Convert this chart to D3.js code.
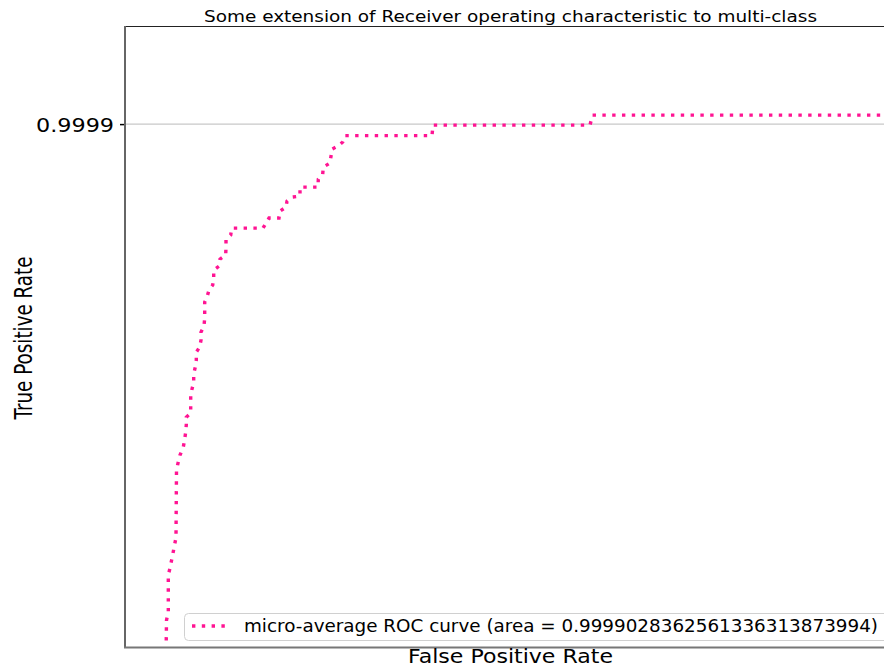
<!DOCTYPE html>
<html>
<head>
<meta charset="utf-8">
<script src="https://cdn.jsdelivr.net/npm/d3@7"></script>
<style>
  html, body { margin: 0; padding: 0; background: #fff; }
  svg { display: block; font-family: "DejaVu Sans", sans-serif; }
</style>
</head>
<body>
<svg id="chart" width="884" height="668"></svg>
<script>
// ---- data ----
const fpr = [0.00041, 0.000415, 0.000433, 0.000433, 0.00045, 0.00048, 0.000505, 0.00051, 0.000515, 0.00053,
  0.00055, 0.000583, 0.000597, 0.000607, 0.000613, 0.000613, 0.000657, 0.000657, 0.00067, 0.000687,
  0.000687, 0.000703, 0.000713, 0.000713, 0.000747, 0.00076, 0.00076, 0.00079, 0.000797, 0.000797,
  0.00082, 0.00084, 0.000877, 0.000887, 0.000887, 0.00094, 0.00095, 0.001007, 0.00101, 0.00101,
  0.001057, 0.001067, 0.00138, 0.00141, 0.00144, 0.00154, 0.00155, 0.00161, 0.00162, 0.00167,
  0.00175, 0.00175, 0.00193, 0.001933, 0.001977, 0.001983, 0.00205, 0.00206, 0.00207, 0.00213,
  0.002177, 0.0022, 0.00307, 0.00308, 0.00465, 0.004675, 0.0078];
const tpr = [0.993944, 0.994389, 0.994478, 0.994889, 0.994967, 0.995133, 0.995278, 0.995311, 0.996056, 0.996133,
  0.996222, 0.996311, 0.9964, 0.996478, 0.996559, 0.996644, 0.996689, 0.996878, 0.996956, 0.997033,
  0.997122, 0.9972, 0.997278, 0.997367, 0.997422, 0.9975, 0.997589, 0.997656, 0.997744, 0.997922,
  0.997978, 0.998056, 0.998111, 0.998189, 0.998278, 0.998322, 0.9984, 0.998444, 0.998533, 0.998622,
  0.998667, 0.998744, 0.998744, 0.9988, 0.998856, 0.998856, 0.998933, 0.998978, 0.999044, 0.999089,
  0.9991, 0.9992, 0.9992, 0.999289, 0.999344, 0.999422, 0.999467, 0.999544, 0.999622, 0.999656,
  0.9997, 0.999772, 0.999772, 0.999889, 0.999889, 1.0, 1.0];
const yTicks = [0.9999];
const yTickLabels = ["0.9999"];
const xDomain = [0, 0.0077];
const yDomain = [0.99409, 1.00099];
const rocArea = "0.9999028362561336313873994";
const titleText = "Some extension of Receiver operating characteristic to multi-class";
const xLabelText = "False Positive Rate";
const yLabelText = "True Positive Rate";
const legendLabel = "micro-average ROC curve (area = " + rocArea + ")";

// ---- layout ----
const svg = d3.select("#chart");
const plot = { left: 125, top: 26, right: 895, bottom: 647 };
const color = "#ff1493";

const x = d3.scaleLinear().domain(xDomain).range([plot.left, plot.right]);
const y = d3.scaleLinear().domain(yDomain).range([plot.bottom, plot.top]);

svg.append("defs").append("clipPath").attr("id", "clip")
  .append("rect")
  .attr("x", plot.left).attr("y", plot.top)
  .attr("width", plot.right - plot.left).attr("height", plot.bottom - plot.top);

// grid (y only)
svg.append("g").selectAll("line").data(yTicks).join("line")
  .attr("x1", plot.left).attr("x2", plot.right)
  .attr("y1", d => y(d)).attr("y2", d => y(d))
  .attr("stroke", "#c8c8c8").attr("stroke-width", 1.2);

// curve
const pts = fpr.map((f, i) => [f, tpr[i]]);
const line = d3.line().x(d => x(d[0])).y(d => y(d[1]));
svg.append("path")
  .attr("clip-path", "url(#clip)")
  .attr("d", line(pts))
  .attr("fill", "none")
  .attr("stroke", color)
  .attr("stroke-width", 3.4)
  .attr("stroke-dasharray", "3.4,6.4");

// spines
svg.append("line").attr("x1", plot.left).attr("x2", plot.right)
  .attr("y1", plot.top + 0.5).attr("y2", plot.top + 0.5)
  .attr("stroke", "#222").attr("stroke-width", 1);
svg.append("line").attr("x1", plot.left).attr("x2", plot.left)
  .attr("y1", plot.top).attr("y2", plot.bottom + 1)
  .attr("stroke", "#666").attr("stroke-width", 2);
svg.append("line").attr("x1", plot.left - 1).attr("x2", plot.right)
  .attr("y1", plot.bottom + 0.5).attr("y2", plot.bottom + 0.5)
  .attr("stroke", "#777").attr("stroke-width", 2);

// y axis ticks
const yAxis = d3.axisLeft(y).tickValues(yTicks)
  .tickFormat((d, i) => yTickLabels[i]).tickSize(4).tickPadding(6);
const yg = svg.append("g").attr("transform", `translate(${plot.left - 1},0)`).call(yAxis);
yg.select(".domain").remove();
yg.selectAll(".tick line").attr("stroke", "#000").attr("stroke-width", 1.5);
yg.selectAll(".tick text")
  .attr("font-family", "DejaVu Sans, sans-serif")
  .attr("font-size", 19.5)
  .attr("fill", "#000")
  .attr("dy", "0.36em")
  .attr("textLength", 78)
  .attr("lengthAdjust", "spacingAndGlyphs");

// title
svg.append("text")
  .attr("x", 510.5).attr("y", 22)
  .attr("text-anchor", "middle")
  .attr("font-size", 16)
  .attr("textLength", 613).attr("lengthAdjust", "spacingAndGlyphs")
  .attr("fill", "#000")
  .text(titleText);

// x label
svg.append("text")
  .attr("x", 510.5).attr("y", 663)
  .attr("text-anchor", "middle")
  .attr("font-size", 19)
  .attr("textLength", 205).attr("lengthAdjust", "spacingAndGlyphs")
  .attr("fill", "#000")
  .text(xLabelText);

// y label
svg.append("text")
  .attr("transform", "translate(32,338) rotate(-90)")
  .attr("text-anchor", "middle")
  .attr("font-size", 25)
  .attr("textLength", 163).attr("lengthAdjust", "spacingAndGlyphs")
  .attr("fill", "#000")
  .text(yLabelText);

// legend
const lg = svg.append("g");
lg.append("rect")
  .attr("x", 184.5).attr("y", 613.5)
  .attr("width", 712).attr("height", 27)
  .attr("rx", 4)
  .attr("fill", "#fff").attr("fill-opacity", 0.85)
  .attr("stroke", "#d0d0d0").attr("stroke-width", 1);
lg.append("line")
  .attr("x1", 192).attr("x2", 226)
  .attr("y1", 626).attr("y2", 626)
  .attr("stroke", color).attr("stroke-width", 3.4)
  .attr("stroke-dasharray", "3.4,6.4");
lg.append("text")
  .attr("x", 244).attr("y", 632)
  .attr("font-size", 18)
  .attr("textLength", 634).attr("lengthAdjust", "spacingAndGlyphs")
  .attr("fill", "#000")
  .text(legendLabel);
</script>
</body>
</html>
